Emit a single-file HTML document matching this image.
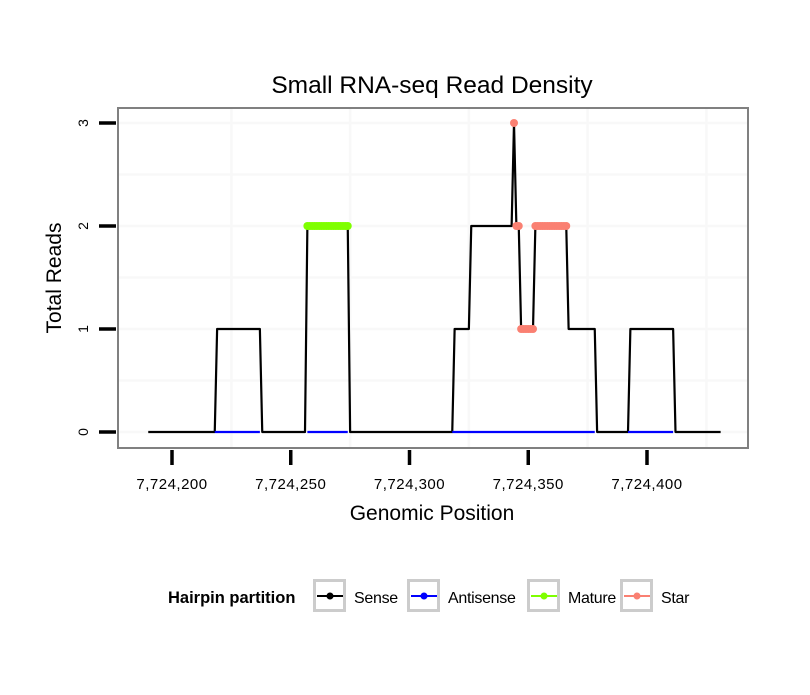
<!DOCTYPE html>
<html><head><meta charset="utf-8"><style>
body{margin:0;background:#fff;}
svg text{font-family:"Liberation Sans",sans-serif;}
</style></head><body>
<svg id="chart" width="810" height="690">
<rect x="0" y="0" width="810" height="690" fill="#fff"/>
<text x="432" y="93" font-size="24.5" text-anchor="middle" fill="#000">Small RNA-seq Read Density</text>
<g id="grid"></g>
<g id="series"></g>
<rect x="118" y="108" width="630" height="340" fill="none" stroke="#808080" stroke-width="2"/>
<g id="axes"></g>
<text x="432" y="520" font-size="21" text-anchor="middle">Genomic Position</text>
<text transform="translate(61,278) rotate(-90)" font-size="21" text-anchor="middle">Total Reads</text>
<g>
<text x="168" y="603" font-size="16.5" font-weight="bold">Hairpin partition</text>
<g id="legend"></g>
</g>
</svg>
<script>
// Sense coverage as runs: start position, end position, value
const senseStart = [7724190,7724219,7724238,7724257,7724275,7724319,7724326,7724344,7724345,7724347,7724353,7724367,7724379,7724393,7724412];
const senseEnd   = [7724218,7724237,7724256,7724274,7724318,7724325,7724343,7724344,7724346,7724352,7724366,7724378,7724392,7724411,7724431];
const senseValue = [0,1,0,2,0,1,2,3,2,1,2,1,0,1,0];
// Antisense (all zero) runs
const antiStart = [7724218,7724257,7724318,7724392];
const antiEnd   = [7724237,7724274,7724378,7724411];
const antiValue = [0,0,0,0];
// Mature and Star points
const matureStart = [7724257]; const matureEnd = [7724274]; const matureValue = [2];
const starStart = [7724344,7724345,7724347,7724353]; const starEnd=[7724344,7724346,7724352,7724366]; const starValue=[3,2,1,2];
const xTicks = [7724200,7724250,7724300,7724350,7724400];
const xTickLabels = ["7,724,200","7,724,250","7,724,300","7,724,350","7,724,400"];
const xGrid = [7724225,7724275,7724325,7724375,7724425];
const yTicks = [0,1,2,3];
const yGrid = [0.5,1.5,2.5];

const NS="http://www.w3.org/2000/svg";
function xs(v){return 172+(v-7724200)*2.375;}
function ys(v){return 432-v*103;}
function mk(tag,attrs,parent){const e=document.createElementNS(NS,tag);for(const k in attrs)e.setAttribute(k,attrs[k]);parent.appendChild(e);return e;}
const grid=document.getElementById('grid'),ser=document.getElementById('series'),axes=document.getElementById('axes'),leg=document.getElementById('legend');
xGrid.forEach(g=>{const l=mk('line',{x1:xs(g),x2:xs(g),y1:109,y2:447,stroke:'#f8f8f8','stroke-width':2.5},grid);

});
yGrid.concat(yTicks).forEach(g=>{const l=mk('line',{x1:119,x2:747,y1:ys(g),y2:ys(g),stroke:'#f8f8f8','stroke-width':2.5},grid);

});
function expand(st,en,va){const p=[];for(let i=0;i<st.length;i++)for(let x=st[i];x<=en[i];x++)p.push([x,va[i]]);return p;}
function runsLine(st,en,va,color,name){
  const pts=expand(st,en,va);
  let seg=[],segs=[];
  pts.forEach((p,i)=>{if(i>0&&p[0]!==pts[i-1][0]+1){segs.push(seg);seg=[];}seg.push(p);});segs.push(seg);
  segs.forEach(s=>{const l=mk('polyline',{points:s.map(p=>xs(p[0])+','+ys(p[1])).join(' '),fill:'none',stroke:color,'stroke-width':2.2,'stroke-linejoin':'round'},ser);
  
  });
}
runsLine(senseStart,senseEnd,senseValue,'#000','sense-line');
runsLine(antiStart,antiEnd,antiValue,'#0000ff','antisense-line');
function points(st,en,va,color,name){expand(st,en,va).forEach(p=>{const c=mk('circle',{cx:xs(p[0]),cy:ys(p[1]),r:4,fill:color},ser);

});}
points(matureStart,matureEnd,matureValue,'#7fff00','mature-point');
points(starStart,starEnd,starValue,'#fa8072','star-point');
xTicks.forEach((t,i)=>{const l=mk('line',{x1:xs(t),x2:xs(t),y1:450,y2:465,stroke:'#000','stroke-width':3.5},axes);


const tx=mk('text',{x:xs(t),y:489,'font-size':15,'text-anchor':'middle','letter-spacing':'0.5'},axes);tx.textContent=xTickLabels[i];

});
yTicks.forEach(t=>{const l=mk('line',{x1:99,x2:116,y1:ys(t),y2:ys(t),stroke:'#000','stroke-width':3.5},axes);


const tx=mk('text',{transform:'translate(88,'+ys(t)+') rotate(-90)','font-size':14,'text-anchor':'middle'},axes);tx.textContent=String(t);

});
const legNames=['Sense','Antisense','Mature','Star'],legColors=['#000','#0000ff','#7fff00','#fa8072'],legX=[313,407,527,620];
legNames.forEach((n,i)=>{const x=legX[i];
const b=mk('rect',{x:x+1.5,y:580.5,width:30,height:30,fill:'#fff',stroke:'#cccccc','stroke-width':3},leg);


mk('line',{x1:x+4,x2:x+30,y1:596,y2:596,stroke:legColors[i],'stroke-width':2},leg);
mk('circle',{cx:x+17,cy:596,r:3.5,fill:legColors[i]},leg);
const t=mk('text',{x:x+41,y:603,'font-size':16,'letter-spacing':'-0.3'},leg);t.textContent=n;

});
</script>
</body></html>
